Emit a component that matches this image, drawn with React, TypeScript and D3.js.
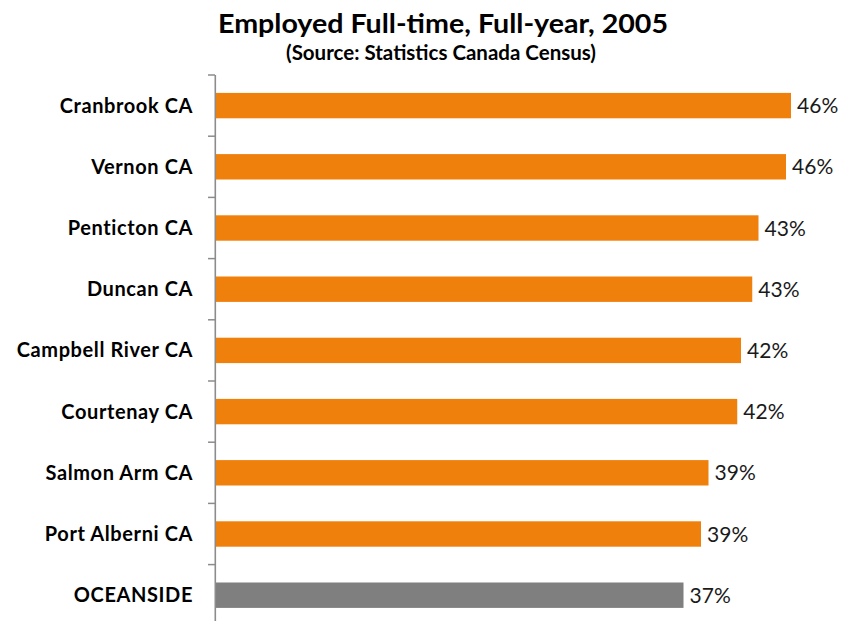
import React from "react";
import * as d3 from "d3";

const categories = [
  "Cranbrook CA",
  "Vernon CA",
  "Penticton CA",
  "Duncan CA",
  "Campbell River CA",
  "Courtenay CA",
  "Salmon Arm CA",
  "Port Alberni CA",
  "OCEANSIDE",
];
const values = [46.0, 45.6, 43.4, 42.9, 42.0, 41.7, 39.4, 38.8, 37.4];
const highlight = ["OCEANSIDE"];
const title = "Employed Full-time, Full-year, 2005";
const subtitle = "(Source: Statistics Canada Census)";

const W = 846;
const H = 621;
const FONT = "Lato, 'Open Sans', 'DejaVu Sans', sans-serif";

export default function App() {
  const x = d3.scaleLinear().domain([0, 50]).range([216, 841]);
  const y = d3
    .scaleBand<string>()
    .domain(categories)
    .range([75, 75 + 61.2 * categories.length])
    .paddingInner(0.585)
    .paddingOuter(0.2925);
  const step = y.step();
  const top = 75;
  const tickYs = d3.range(categories.length + 1).map((k) => top + k * step);

  return (
    <div style={{ position: "fixed", left: 0, top: 0, width: W, height: H, background: "#fff" }}>
      <svg width={W} height={H} style={{ display: "block" }} fontFamily={FONT}>
        <rect width={W} height={H} fill="#fff" />
        <text x={443} y={33} textAnchor="middle" fontSize={27} fontWeight="bold" fill="#000" textLength={450} lengthAdjust="spacingAndGlyphs">
          {title}
        </text>
        <text x={441} y={60} textAnchor="middle" fontSize={20} fontWeight="bold" fill="#000" textLength={310} lengthAdjust="spacingAndGlyphs">
          {subtitle}
        </text>
        {categories.map((c, i) => {
          const yy = y(c)!;
          const v = values[i];
          return (
            <g key={c}>
              <rect
                x={x(0)}
                y={yy}
                width={x(v) - x(0)}
                height={y.bandwidth()}
                fill={highlight.includes(c) ? "#7F7F7F" : "#EF800B"}
              />
              <text x={x(v) + 6} y={yy + y.bandwidth() / 2 + 7.5} fontSize={21} fill="#1a1a1a">
                {d3.format(".0f")(v)}%
              </text>
              <text
                x={193}
                y={yy + y.bandwidth() / 2 + 7}
                textAnchor="end"
                fontSize={20}
                fontWeight="bold"
                letterSpacing={0.6}
                fill="#000"
              >
                {c}
              </text>
            </g>
          );
        })}
        {tickYs.map((t, k) => (
          <line key={k} x1={208} x2={215} y1={t} y2={t} stroke="#8c8c8c" strokeWidth={1.5} />
        ))}
        <line x1={215.3} x2={215.3} y1={top} y2={top + step * categories.length} stroke="#8c8c8c" strokeWidth={1.6} />
      </svg>
    </div>
  );
}
